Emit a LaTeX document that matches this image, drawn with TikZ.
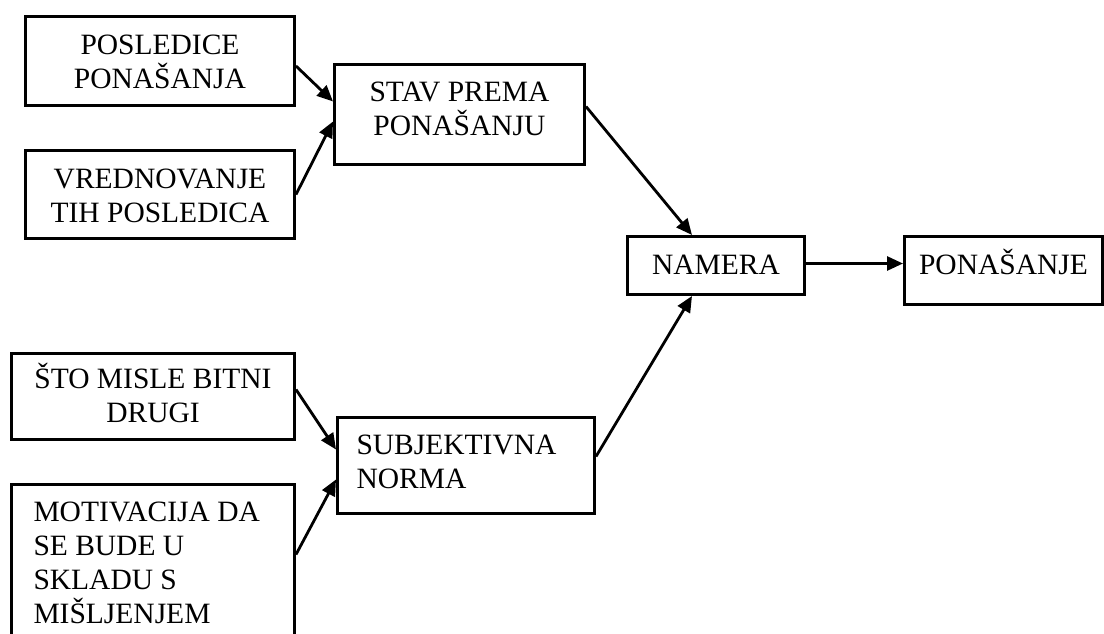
\documentclass[tikz,border=0pt]{standalone}
\usepackage{fontspec}
\setmainfont{Liberation Serif}
\usetikzlibrary{arrows.meta,calc}
% centred text block: width, height, first-baseline drop, text
\newcommand{\ctxt}[4]{\parbox[c][#2][t]{#1}{\centering\rule{0pt}{#3}#4}}
% left-aligned text block: width, height, first-baseline drop, left pad, text
\newcommand{\ltxt}[5]{\parbox[c][#2][t]{#1}{\raggedright\leftskip=#4\relax\rule{0pt}{#3}#5}}
\begin{document}
\begin{tikzpicture}[x=1pt,y=-1pt,
  box/.style={draw,line width=3pt,rectangle,anchor=north west,inner sep=0pt,
    font=\fontsize{29.5}{34}\selectfont},
  arr/.style={line width=2.8pt,-{Triangle[length=16pt,width=14pt]}}]
\useasboundingbox (0,0) rectangle (1104,633);
\fill[white] (0,0) rectangle (1104,633);
\begin{scope}
\clip (0,0) rectangle (1104,633);
\node[box] (pos) at (24,15) {\ctxt{269pt}{89pt}{38pt}{POSLEDICE\\PONAŠANJA}};
\node[box] (ved) at (24,149) {\ctxt{269pt}{88pt}{38pt}{VREDNOVANJE\\TIH POSLEDICA}};
\node[box] (stav) at (333,63) {\ctxt{250pt}{100pt}{37pt}{STAV PREMA\\PONAŠANJU}};
\node[box] (namera) at (626,235) {\ctxt{177pt}{58pt}{38pt}{NAMERA}};
\node[box] (pon) at (903,235) {\ctxt{198pt}{68pt}{38pt}{PONAŠANJE}};
\node[box] (sto) at (10,352) {\ctxt{283pt}{86pt}{35pt}{ŠTO MISLE BITNI\\DRUGI}};
\node[box] (sub) at (336,416) {\ltxt{257pt}{96pt}{37pt}{19pt}{SUBJEKTIVNA\\NORMA}};
\node[box] (mot) at (10,483) {\ltxt{283pt}{170pt}{37pt}{22pt}{MOTIVACIJA DA\\SE BUDE U\\SKLADU S\\MIŠLJENJEM}};
\draw[arr] ([yshift=-5pt]pos.east) -- ([yshift=13pt]stav.west);
\draw[arr] (ved.east) -- ([yshift=-7pt]stav.west);
\draw[arr] ([yshift=8pt]stav.east) -- ([xshift=-24pt]namera.north);
\draw[arr] ([yshift=9pt]sub.east) -- ([xshift=-24pt]namera.south);
\draw[arr] ([yshift=2pt]namera.east) -- ([yshift=2pt]namera.east -| pon.west);
\draw[arr] ([yshift=7pt]sto.east) -- ([yshift=16pt]sub.west);
\draw[arr] ([yshift=15pt]mot.east) -- ([yshift=-14pt]sub.west);
\end{scope}
\end{tikzpicture}
\end{document}
